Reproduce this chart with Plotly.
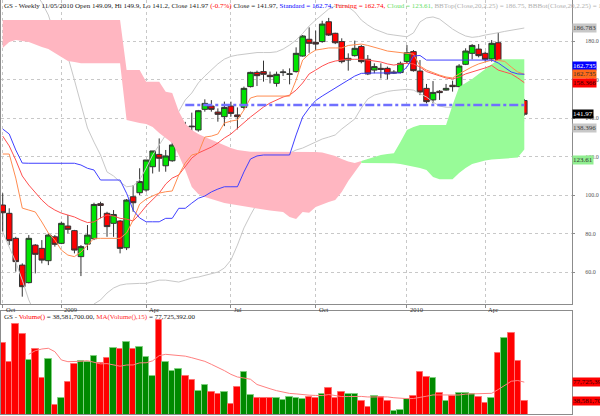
import pandas as pd
import plotly.graph_objects as go

# ---------------- data (weekly bars, Fridays) ----------------
dates = pd.date_range("2008-10-31", periods=81, freq="7D")

opens = [94.8, 90.5, 77.5, 63.6, 54.5, 74.0, 72.3, 65.9, 78.3, 74.9,
         83.9, 81.5, 68.0, 74.5, 77.3, 95.5, 90.5, 85.3, 86.5, 72.6,
         99.1, 101.2, 102.6, 114.7, 121.1, 115.2, 117.8, 126.0, 135.5, 135.8,
         133.8, 144.5, 146.2, 143.1, 140.7, 146.2, 141.6, 145.5, 156.3, 163.7,
         164.1, 162.2, 158.0, 163.6, 162.7, 164.1, 172.2, 180.9, 179.3, 179.7,
         190.0, 184.0, 179.7, 171.0, 172.4, 177.1, 170.5, 164.9, 165.8, 165.8,
         163.9, 163.6, 169.3, 174.5, 164.4, 155.4, 149.4, 153.9, 154.5, 157.0,
         156.3, 167.9, 173.6, 175.8, 173.6, 170.7, 179.1, 155.4, 156.6, 147.6,
         149.09]
highs = [100.9, 93.1, 78.3, 64.5, 79.2, 74.5, 76.6, 80.1, 79.2, 86.2,
         89.6, 81.9, 74.0, 84.4, 96.0, 96.5, 91.3, 92.2, 87.0, 97.9,
         105.2, 113.9, 118.2, 122.9, 129.4, 123.4, 128.6, 139.8, 138.0, 142.8,
         144.2, 149.7, 149.3, 145.0, 148.5, 148.5, 145.5, 156.3, 164.1, 164.6,
         169.8, 164.1, 164.1, 165.3, 165.8, 176.7, 183.1, 187.1, 185.4, 190.5,
         192.0, 184.3, 181.4, 173.6, 180.2, 177.9, 172.7, 168.4, 168.4, 166.7,
         164.9, 169.3, 177.9, 175.3, 170.1, 157.7, 159.2, 154.5, 157.7, 159.4,
         168.0, 176.2, 178.4, 178.4, 174.5, 180.5, 184.3, 165.8, 160.6, 151.9,
         149.9]
lows = [81.0, 74.0, 60.2, 47.2, 54.1, 59.3, 64.5, 63.6, 73.2, 74.5,
        80.1, 69.7, 57.9, 71.4, 76.6, 87.9, 78.3, 78.3, 69.7, 71.4,
        91.3, 100.0, 101.7, 111.2, 112.1, 112.1, 117.3, 125.1, 127.0, 132.9,
        132.9, 143.3, 143.3, 138.1, 135.8, 140.7, 134.1, 144.5, 155.9, 156.6,
        158.9, 158.0, 156.3, 161.8, 157.5, 163.6, 171.9, 173.9, 175.3, 179.1,
        182.6, 178.4, 168.4, 164.6, 171.9, 168.4, 162.3, 163.2, 160.6, 160.1,
        162.9, 163.2, 168.4, 164.1, 151.9, 147.6, 147.6, 149.4, 154.2, 153.7,
        155.9, 167.5, 170.5, 171.5, 169.3, 169.3, 155.4, 154.9, 143.3, 141.3,
        141.2]
closes = [90.8, 76.3, 65.4, 52.4, 77.5, 69.2, 66.2, 79.2, 74.4, 85.3,
          82.2, 71.4, 73.2, 79.2, 95.1, 94.6, 83.6, 89.9, 72.3, 97.4,
          96.0, 107.0, 118.2, 122.9, 119.1, 120.3, 126.0, 138.4, 133.2, 135.5,
          143.8, 147.6, 144.5, 141.9, 145.5, 142.4, 140.7, 155.4, 163.7, 162.0,
          162.7, 161.5, 162.7, 163.9, 162.9, 173.6, 182.6, 178.8, 178.4, 188.8,
          183.1, 179.1, 169.3, 170.1, 176.2, 169.3, 162.9, 166.7, 165.3, 162.9,
          163.4, 168.4, 173.9, 164.6, 153.5, 148.5, 153.3, 153.2, 155.4, 156.3,
          167.0, 174.8, 177.7, 172.4, 170.5, 178.8, 160.6, 157.5, 145.0, 142.4,
          141.97]

# weekly volume, millions of shares
volume_m = [157.5, 118.3, 197.2, 176.6, 123.1, 145.1, 86.0, 125.7, 30.3, 45.4,
            77.7, 114.2, 120.4, 118.3, 130.7, 116.9, 126.6, 148.4, 145.1, 160.8,
            146.4, 150.5, 128.6, 90.1, 205.5, 118.9, 101.0, 104.5, 90.7, 81.8,
            59.2, 72.2, 57.1, 53.6, 57.1, 31.8, 68.0, 97.7, 51.6, 44.1,
            44.1, 44.1, 45.4, 40.6, 46.8, 44.1, 43.3, 46.8, 45.4, 52.4,
            64.7, 45.4, 56.5, 53.0, 53.0, 39.2, 26.8, 49.5, 46.1, 39.2,
            18.6, 20.0, 42.0, 49.5, 99.0, 88.6, 85.3, 55.7, 39.2, 48.9,
            55.7, 54.4, 53.0, 46.1, 33.8, 45.4, 136.9, 167.8, 179.3, 121.6,
            38.58]
volume_up = [0, 0, 0, 0, 1, 0, 0, 1, 0, 1,
             0, 0, 1, 1, 1, 0, 0, 1, 0, 1,
             0, 1, 1, 1, 0, 1, 1, 1, 0, 0,
             1, 1, 0, 0, 1, 0, 0, 1, 1, 0,
             0, 0, 1, 1, 1, 1, 1, 0, 0, 1,
             0, 0, 0, 1, 1, 0, 0, 1, 0, 0,
             1, 1, 1, 0, 0, 0, 1, 0, 1, 0,
             1, 1, 1, 0, 0, 1, 0, 1, 0, 0,
             0]
# MA(15) of volume for bars 5..14 (history before the window)
vol_ma_early = [134.8, 142.2, 145.7, 147.2, 140.2, 123.1, 119.6, 119.6, 120.4, 121.7]

bb_top = [230, 225, 220, 215, 210, 205, 200, 193.5, 183.1, 180.5,
          171.7, 159.7, 146.8, 134.8, 127.5, 120.8, 112.0, 109.9, 106.8, 104.3,
          104.7, 107.8, 114.0, 120.8, 126.0, 131.2, 137.4, 143.6, 149.4, 153.0,
          158.2, 161.8, 164.9, 168.1, 170.6, 172.0, 172.7, 173.2, 173.6, 174.0,
          174.0, 174.0, 174.4, 175.8, 177.9, 180.5, 183.9, 187.8, 190.9, 194.0,
          196.6, 198.2, 198.7, 197.7, 195.1, 190.9, 188.3, 186.2, 184.7, 183.6,
          183.1, 182.6, 182.2, 184.2, 189.9, 192.0, 192.5, 191.4, 188.8, 186.2,
          184.2, 182.6, 181.9, 182.3, 183.1, 183.6, 184.3, 185.0, 185.7, 186.2,
          186.75]
bb_bot = [80.8, 72.5, 65.2, 55.8, 45.5, 38.0, 35.0, 34.0, 34.0, 35.0,
          36.0, 37.0, 38.0, 40.0, 43.4, 45.5, 49.1, 51.7, 53.2, 53.8,
          54.1, 54.1, 54.1, 54.8, 55.8, 55.8, 55.3, 54.8, 55.8, 56.9,
          57.4, 58.4, 59.2, 60.0, 62.1, 66.2, 74.0, 82.9, 89.6, 95.8,
          101.6, 107.8, 113.0, 118.2, 121.7, 123.4, 124.4, 126.0, 127.5, 129.1,
          130.1, 131.2, 134.3, 136.9, 139.5, 145.2, 149.9, 151.9, 153.0, 153.8,
          154.3, 154.5, 154.9, 154.5, 152.8, 150.9, 148.3, 146.2, 145.6, 145.6,
          148.3, 150.4, 151.4, 151.4, 150.9, 150.4, 149.4, 147.8, 145.2, 141.6,
          138.4]
standard = [134.3, 131.7, 123.4, 116.6, 116.5, 116.5, 116.5, 116.5, 116.5, 116.5,
            116.5, 116.5, 115.6, 113.9, 113.0, 107.8, 107.8, 107.8, 107.8, 100.9,
            92.2, 88.1, 86.1, 86.1, 86.1, 87.9, 87.9, 93.1, 93.1, 95.8,
            98.3, 99.5, 101.6, 103.1, 104.3, 104.3, 104.3, 112.0, 118.7, 120.3,
            120.8, 120.8, 120.8, 120.8, 120.8, 131.2, 140.5, 145.2, 149.1, 151.4,
            153.5, 155.8, 157.7, 159.7, 161.8, 163.2, 163.4, 163.4, 163.4, 163.4,
            163.4, 163.4, 166.5, 172.2, 172.5, 170.1, 170.1, 170.1, 170.1, 170.1,
            170.1, 170.1, 170.1, 170.1, 170.1, 170.1, 168.6, 166.2, 163.9, 162.9,
            162.735]
turning = [121.3, 121.3, 108.8, 93.2, 92.2, 91.2, 86.0, 80.3, 76.6, 71.4,
           68.8, 68.0, 70.4, 74.0, 77.5, 77.5, 77.5, 77.5, 77.5, 80.3,
           87.0, 95.3, 97.9, 99.5, 101.0, 101.7, 102.1, 110.4, 116.6, 120.8,
           121.7, 130.1, 130.6, 131.7, 137.4, 138.4, 139.0, 144.2, 150.4, 151.4,
           151.4, 151.4, 151.4, 151.4, 151.4, 159.7, 170.1, 173.2, 175.3, 175.8,
           176.4, 176.4, 176.4, 177.7, 177.9, 178.4, 177.7, 176.9, 175.8, 174.8,
           174.3, 173.8, 173.6, 173.2, 167.0, 164.9, 163.4, 162.3, 161.3, 160.8,
           162.9, 164.9, 166.6, 168.1, 169.1, 170.1, 169.9, 169.4, 166.5, 163.9,
           162.735]
red_avg = [130.6, 125.5, 118.2, 109.9, 105.2, 101.0, 97.4, 94.3, 92.2, 90.6,
           89.6, 88.6, 87.0, 85.7, 86.0, 88.1, 89.6, 89.1, 87.9, 87.5,
           86.5, 90.1, 94.3, 97.4, 101.0, 105.7, 108.8, 110.4, 115.1, 119.2,
           121.8, 123.4, 124.9, 127.0, 129.6, 131.7, 134.8, 137.9, 140.5, 143.1,
           145.7, 147.8, 149.4, 150.9, 151.9, 154.5, 158.2, 162.9, 164.9, 167.0,
           168.6, 169.6, 170.1, 170.5, 170.5, 170.5, 170.1, 169.6, 169.1, 168.1,
           167.5, 168.1, 168.4, 168.1, 166.5, 164.1, 162.9, 161.8, 160.8, 160.3,
           161.3, 162.9, 163.9, 164.9, 166.0, 167.3, 164.9, 163.9, 162.9, 160.8,
           158.366]
cloud_top = [190.9] * 19 + [
    164.9, 164.9, 164.9, 158.9, 158.9, 158.9, 153.7, 153.0, 143.5, 137.2,
    133.8, 131.7, 130.1, 128.6, 127.0, 125.5, 124.4, 123.4, 122.9, 122.5,
    122.5, 122.5, 122.5, 122.5, 122.5, 122.5, 122.3, 122.3, 122.3, 122.3,
    122.1, 121.3, 120.3, 118.7, 117.4, 116.6, 117.7, 118.7, 120.0, 120.8,
    121.3, 121.7, 127.5, 133.8, 135.3, 136.4, 136.4, 136.4, 136.4, 136.4,
    146.8, 156.1, 158.2, 160.3, 162.9, 165.5, 168.1, 170.4, 170.5, 170.5,
    170.5, 170.5]
cloud_bot = [176.4, 179.5, 180.5, 180.0, 179.5, 178.4, 176.9, 175.8, 173.8, 171.7,
             169.6, 169.1, 168.4, 168.4, 168.4, 168.4, 168.4, 168.4, 168.4, 139.0,
             138.4, 137.4, 136.9, 135.3, 132.2, 129.6, 127.0, 120.8, 113.0, 104.2,
             100.5, 99.0, 97.9, 96.9, 95.8, 95.1, 94.5, 94.0, 93.5, 93.0,
             92.5, 91.9, 91.4, 91.2, 88.6, 87.5, 91.2, 90.8, 93.8, 95.3,
             96.4, 97.4, 101.6, 107.3, 112.0, 116.6, 116.5, 116.5, 116.5, 116.5,
             116.5, 116.1, 115.6, 114.8, 114.0, 113.0, 109.4, 108.2, 108.2, 108.2,
             111.4, 114.0, 116.1, 117.1, 117.9, 118.4, 118.7, 119.0, 119.2, 119.5,
             123.61]
cloud_cross = 55  # bar index where the cloud turns from bearish (pink) to bullish (green)

trend_dates = ["2009-05-15", "2010-05-17"]
trend_level = [146.8, 146.8]

price_ticks = [60, 80, 100, 120, 140, 160, 180]
date_ticks = ["2008-10-31", "2009-01-02", "2009-04-03", "2009-07-03",
              "2009-10-02", "2010-01-08", "2010-04-02"]
date_tick_text = ["Oct", "2009", "Apr", "Jul", "Oct", "2010", "Apr"]

label_values = [186.783, 162.735, 162.735, 158.366, 141.97, 138.396, 123.61]
label_text = ["186.783", "162.735", "162.735", "158.366", "141.97", "138.396", "123.61"]
vol_label_values = [77.725392, 38.5817]
vol_label_text = ["77,725,392", "38,581,700"]

# ---------------- derived ----------------
vol_ma = [None] * 4 + vol_ma_early + [
    sum(volume_m[i - 14:i + 1]) / 15 for i in range(14, len(volume_m))]
vol = [v * 1e6 for v in volume_m]
vol_ma_abs = [None if v is None else v * 1e6 for v in vol_ma]

FONT = "Liberation Serif"
GRID = "#c8c8c8"
AX = "#8c8c8c"

fig = go.Figure()
xs = list(dates)

# Bollinger bands (drawn beneath the cloud)
for s in (bb_top, bb_bot):
    fig.add_trace(go.Scatter(x=xs, y=s, mode="lines", line=dict(color="#c8c8c8", width=1)))

# Ichimoku cloud
i = cloud_cross
pink_x = xs[:i + 1] + xs[:i + 1][::-1]
pink_y = cloud_top[:i + 1] + cloud_bot[:i + 1][::-1]
green_x = xs[i:] + xs[i:][::-1]
green_y = cloud_top[i:] + cloud_bot[i:][::-1]
fig.add_trace(go.Scatter(x=pink_x, y=pink_y, fill="toself", fillcolor="#FFB6C1",
                         line=dict(width=0), mode="lines", hoverinfo="skip"))
fig.add_trace(go.Scatter(x=green_x, y=green_y, fill="toself", fillcolor="#98FB98",
                         line=dict(width=0), mode="lines", hoverinfo="skip"))

# Ichimoku lines and average
fig.add_trace(go.Scatter(x=xs, y=red_avg, mode="lines", line=dict(color="#FF5050", width=1)))
fig.add_trace(go.Scatter(x=xs, y=turning, mode="lines", line=dict(color="#FF8C50", width=1)))
fig.add_trace(go.Scatter(x=xs, y=standard, mode="lines", line=dict(color="#4040FF", width=1)))

# horizontal dash-dot line
fig.add_trace(go.Scatter(x=trend_dates, y=trend_level, mode="lines",
                         line=dict(color="#7070FF", width=2.5, dash="dashdot")))

# candles
fig.add_trace(go.Candlestick(
    x=xs, open=opens, high=highs, low=lows, close=closes,
    increasing=dict(fillcolor="#00E400", line=dict(color="#333333", width=1)),
    decreasing=dict(fillcolor="#FF0000", line=dict(color="#333333", width=1)),
    whiskerwidth=0))

# volume
vcol = ["#008A00" if u else "#FF0000" for u in volume_up]
vline = ["#7FD07F" if u else "#FF7070" for u in volume_up]
fig.add_trace(go.Bar(x=xs, y=vol, yaxis="y2", xaxis="x2",
                     marker=dict(color=vcol, line=dict(color=vline, width=1)),
                     width=7 * 24 * 3600 * 1000, base=0))
fig.add_trace(go.Scatter(x=xs, y=vol_ma_abs, yaxis="y2", xaxis="x2", mode="lines",
                         line=dict(color="#FF8080", width=1)))

xr = ["2008-10-29 04:00", "2010-07-04 05:00"]
fig.update_layout(
    width=600, height=416, margin=dict(l=1, r=28, t=0, b=2, autoexpand=False),
    paper_bgcolor="white", plot_bgcolor="white", showlegend=False,
    boxgap=0.15, boxgroupgap=0, bargap=0,
    font=dict(family=FONT, size=7, color="#222"),
    xaxis=dict(domain=[0, 1], anchor="y", range=xr, rangeslider=dict(visible=False),
               tickvals=date_ticks, ticktext=[""] * len(date_ticks), ticks="outside",
               ticklen=3, tickcolor=AX, showgrid=True, gridcolor=GRID, griddash="dot",
               showline=True, linecolor=AX, linewidth=1, zeroline=False, automargin=False),
    yaxis=dict(domain=[0.2657, 1], anchor="x", range=[43.4, 201.3], side="right",
               tickvals=price_ticks, ticktext=[f"{v:.1f}" for v in price_ticks],
               ticks="outside", ticklen=2, tickcolor=AX, ticklabelstandoff=9,
               tickfont=dict(size=6, color="#555", family=FONT),
               showgrid=True, gridcolor=GRID, griddash="dot", zeroline=False,
               showline=True, linecolor=AX, linewidth=1, mirror=True, automargin=False),
    xaxis2=dict(domain=[0, 1], anchor="y2", matches="x", showticklabels=False,
                showgrid=False, showline=True, linecolor=AX, linewidth=1, mirror=True,
                zeroline=False, automargin=False),
    yaxis2=dict(domain=[0, 0.2488], anchor="x2", range=[11.8e6, 224e6], side="right",
                showticklabels=False, showgrid=False, zeroline=False, ticks="",
                showline=True, linecolor=AX, linewidth=1, mirror=True, automargin=False),
)

ann = []
# title lines
title = ("GS - Weekly 11/05/2010 Open 149.09, Hi 149.9, Lo 141.2, Close 141.97 "
         "<span style='color:#FF0000'>(-0.7%)</span> Close = 141.97, "
         "<span style='color:#0000FF'>Standard = 162.74,</span> "
         "<span style='color:#FF0000'>Turning = 162.74,</span> "
         "<span style='color:#66DD66'>Cloud = 123.61,</span> "
         "<span style='color:#B0B0B0'>BBTop(Close,20,2.25) = 186.75,</span> "
         "<span style='color:#B0B0B0'>BBBot(Close,20,2.25) = 138.40</span>")
ann.append(dict(text=title, xref="paper", yref="paper", x=0, y=1, xanchor="left",
                yanchor="top", xshift=1, yshift=0, showarrow=False,
                font=dict(family=FONT, size=7, color="#222")))
vtitle = ("GS - <span style='color:#FF0000'>Volume()</span> = 38,581,700.00, "
          "<span style='color:#FF3030'>MA(Volume(),15)</span> = 77,725,392.00")
ann.append(dict(text=vtitle, xref="paper", yref="paper", x=0, y=0.2488, xanchor="left",
                yanchor="top", xshift=1, yshift=0, showarrow=False,
                font=dict(family=FONT, size=7, color="#222")))

# date labels
for d, t in zip(date_ticks, date_tick_text):
    ann.append(dict(text=t, x=d, xref="x", y=0.2657, yref="paper", xanchor="left",
                    yanchor="top", xshift=1, yshift=0, showarrow=False,
                    font=dict(family=FONT, size=6.5, color="#333")))

# right label boxes
styles = [("#C8C8C8", "#404040", 0), ("#0000FF", "#FFFFFF", 8), ("#FF6A1A", "#303030", 0),
          ("#FF0000", "#300000", 0), ("#000000", "#FFFFFF", 0), ("#C8C8C8", "#404040", -7),
          ("#90EE90", "#303030", -10)]
for v, t, (bg, fg, sh) in zip(label_values, label_text, styles):
    ann.append(dict(text=t, x=1, xref="paper", y=v, yref="y", xanchor="left", yanchor="middle",
                    yshift=sh, showarrow=False, bgcolor=bg, borderpad=0,
                    font=dict(family=FONT, size=7, color=fg)))
for v, t in zip(vol_label_values, vol_label_text):
    ann.append(dict(text=t, x=1, xref="paper", y=v * 1e6, yref="y2", xanchor="left",
                    yanchor="middle", showarrow=False, bgcolor="#FF0000", borderpad=0,
                    font=dict(family=FONT, size=7, color="#300000")))

fig.update_layout(annotations=ann)
fig.write_html("out.html", config={"displayModeBar": False},
               post_script="document.body.style.margin='0';document.body.style.padding='0';")
